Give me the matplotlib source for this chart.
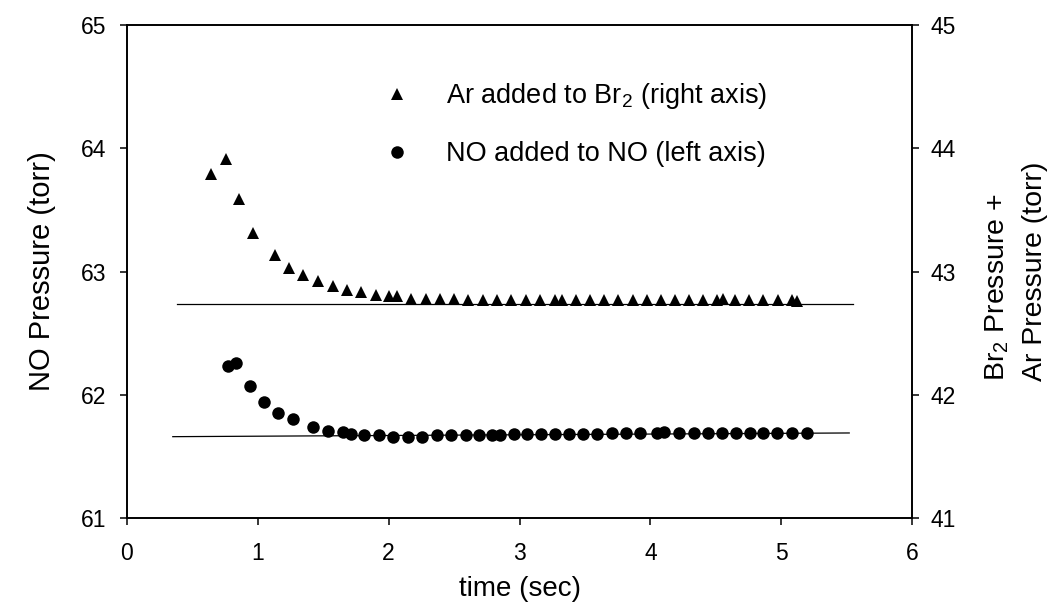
import matplotlib
matplotlib.use("Agg")
from matplotlib import pyplot as plt

plt.rcParams["font.family"] = ["Liberation Sans", "DejaVu Sans"]
plt.rcParams["mathtext.default"] = "regular"

# Ar added to Br2 (right axis)
ar_time = [0.642, 0.757, 0.856, 0.963, 1.131, 1.239, 1.346, 1.460, 1.575, 1.682,
           1.789, 1.904, 2.003, 2.064, 2.171, 2.286, 2.393, 2.500, 2.607, 2.722,
           2.829, 2.936, 3.050, 3.157, 3.272, 3.326, 3.433, 3.540, 3.647, 3.754,
           3.869, 3.976, 4.083, 4.190, 4.297, 4.404, 4.511, 4.557, 4.648, 4.755,
           4.862, 4.977, 5.084, 5.122]
ar_press = [43.79, 43.91, 43.59, 43.31, 43.13, 43.03, 42.97, 42.92, 42.88, 42.85,
            42.83, 42.81, 42.80, 42.80, 42.78, 42.78, 42.78, 42.78, 42.77, 42.77,
            42.77, 42.77, 42.77, 42.77, 42.77, 42.77, 42.77, 42.77, 42.77, 42.77,
            42.77, 42.77, 42.77, 42.77, 42.77, 42.77, 42.77, 42.78, 42.77, 42.77,
            42.77, 42.77, 42.77, 42.76]

# NO added to NO (left axis)
no_time = [0.772, 0.833, 0.940, 1.047, 1.154, 1.269, 1.422, 1.537, 1.651, 1.713,
           1.812, 1.927, 2.034, 2.148, 2.255, 2.370, 2.477, 2.592, 2.691, 2.791,
           2.852, 2.959, 3.058, 3.165, 3.272, 3.379, 3.486, 3.593, 3.708, 3.815,
           3.922, 4.052, 4.106, 4.220, 4.335, 4.442, 4.549, 4.656, 4.763, 4.862,
           4.969, 5.084, 5.199]
no_press = [62.23, 62.26, 62.07, 61.94, 61.85, 61.80, 61.74, 61.71, 61.70, 61.68,
            61.67, 61.67, 61.66, 61.66, 61.66, 61.67, 61.67, 61.67, 61.67, 61.67,
            61.67, 61.68, 61.68, 61.68, 61.68, 61.68, 61.68, 61.68, 61.69, 61.69,
            61.69, 61.69, 61.70, 61.69, 61.69, 61.69, 61.69, 61.69, 61.69, 61.69,
            61.69, 61.69, 61.69]

# baselines
ar_base_t = [0.38, 5.55]
ar_base_p = [42.74, 42.74]
no_base_t = [0.35, 5.52]
no_base_p = [61.66, 61.69]

fig = plt.figure(figsize=(10.6, 6.08), dpi=100)
ax = fig.add_axes([0.1198, 0.148, 0.7406, 0.8109])
ax2 = ax.twinx()

ax.plot(no_base_t, no_base_p, color="black", lw=0.9)
circ, = ax.plot(no_time, no_press, "o", color="black", ms=9, mew=0,
                label="NO added to NO (left axis)")
ax2.plot(ar_base_t, ar_base_p, color="black", lw=0.9)
tri, = ax2.plot(ar_time, ar_press, "^", color="black", ms=9, mew=0,
                label="Ar added to Br$_2$ (right axis)")

ax.set_xlim(0, 6)
ax.set_ylim(61, 65)
ax2.set_ylim(41, 45)
ax.set_xticks(range(0, 7))
ax.set_yticks(range(61, 66))
ax2.set_yticks(range(41, 46))

for a in (ax, ax2):
    for s in a.spines.values():
        s.set_linewidth(1.2)
ax.tick_params(axis="both", direction="out", length=5, width=1.1, labelsize=16.5)
ax.tick_params(axis="y", pad=10)
ax.tick_params(axis="x", pad=12)
ax2.tick_params(axis="y", direction="out", length=5, width=1.1, labelsize=16.5, pad=8)

ax.set_xlabel("time (sec)", fontsize=20, labelpad=8)
ax.set_ylabel("NO Pressure (torr)", fontsize=21, labelpad=18)
ax2.set_ylabel("Br$_2$ Pressure +\nAr Pressure (torr)", fontsize=20.5, labelpad=20,
               rotation=90, multialignment="left", linespacing=1.55)

fig.legend(handles=[tri, circ], loc="upper left", bbox_to_anchor=(0.349, 0.866),
           frameon=False, fontsize=19.5, borderpad=0, borderaxespad=0,
           handlelength=2.0, handletextpad=0.82, labelspacing=1.1, markerscale=1.0)

fig.savefig("out.png", dpi=100)
